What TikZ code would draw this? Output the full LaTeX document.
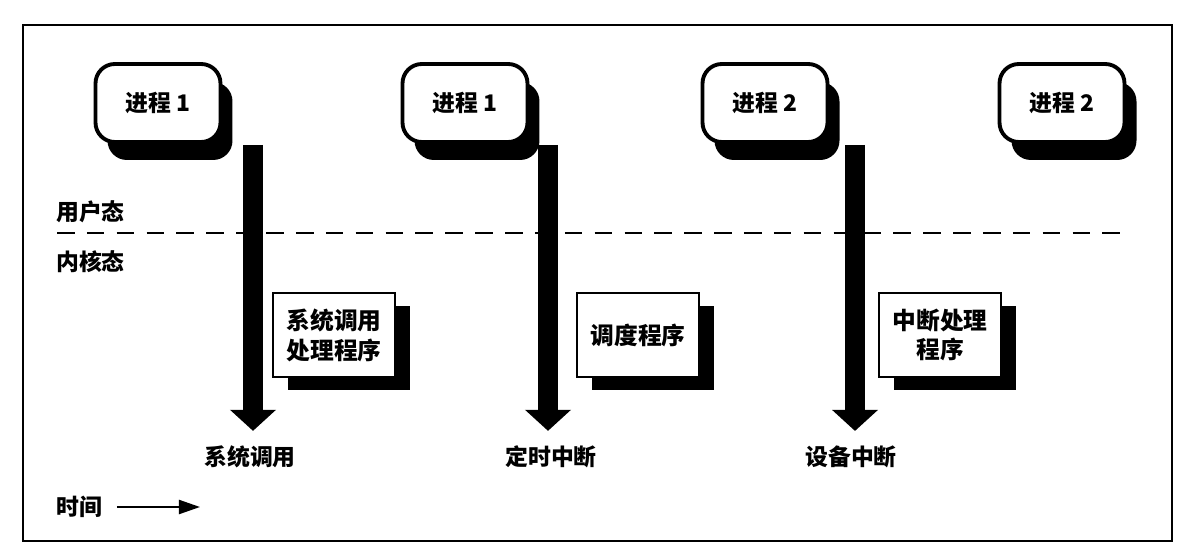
\documentclass[tikz,border=0pt]{standalone}
\usepackage{fontspec}
\setmainfont{Noto Sans CJK SC}
\usetikzlibrary{arrows.meta,calc}

\begin{document}
\begin{tikzpicture}[x=0.02cm,y=-0.02cm,font=\bfseries\fontsize{13}{15}\selectfont]
\tikzset{P/.style={draw,line width=2.2pt,rounded corners=11pt,fill=white,minimum width=2.5cm,minimum height=1.56cm},
Psh/.style={fill=black,rounded corners=11pt,minimum width=2.5cm,minimum height=1.56cm,xshift=0.24cm,yshift=-0.36cm},
H/.style={draw,line width=1.6pt,fill=white,minimum width=2.44cm,minimum height=1.68cm,align=center,inner sep=0,font=\bfseries\fontsize{13.5}{17}\selectfont},
Hsh/.style={fill=black,minimum width=2.44cm,minimum height=1.68cm,xshift=0.3cm,yshift=-0.26cm},
Down/.style={line width=11.3pt,-{Triangle[width=25.5pt,length=12pt]},shorten >=5pt}
}

\useasboundingbox (0,0) rectangle (1185,553);
\draw[line width=1.2pt] (23,25) rectangle (1172,541);

% user / kernel mode
\node(user)[anchor=west] at (50,212) {用户态};
\node(kern)[anchor=west] at (50,262) {内核态};
\coordinate (dl) at (57,233);
\coordinate (dr) at (1130,233);
\draw[line width=1.7pt,dash pattern=on 10pt off 7pt] (dl) -- (dr);

% events
\node(lab1) at (250,457) {系统调用};
\node(lab2) at (551,457) {定时中断};
\node(lab3) at (851,457) {设备中断};

\coordinate (t1) at (253,145);
\coordinate (t2) at (548,145);
\coordinate (t3) at (855,145);
\draw[Down] (t1) -- (t1 |- lab1.north);
\draw[Down] (t2) -- (t2 |- lab2.north);
\draw[Down] (t3) -- (t3 |- lab3.north);

% processes
\foreach \x/\n/\t in {158/1/进程 1,465/2/进程 1,765/3/进程 2,1062/4/进程 2}{
\node[Psh] at (\x,103) {};
\node(p\n)[P] at (\x,103) {\t};
}

% handlers
\foreach \x/\n/\t in {334/1/{系统调用\\处理程序},638/2/调度程序,940/3/{中断处理\\程序}}{
\node[Hsh] at (\x,335) {};
\node(h\n)[H] at (\x,335) {\t};
}

% time
\node(time)[anchor=west] at (50,507) {时间};
\coordinate (tend) at (200,507);
\draw[line width=1.2pt,-{Triangle[width=8pt,length=12pt]},shorten <=5pt] (time.east) -- (tend);

\end{tikzpicture}
\end{document}
